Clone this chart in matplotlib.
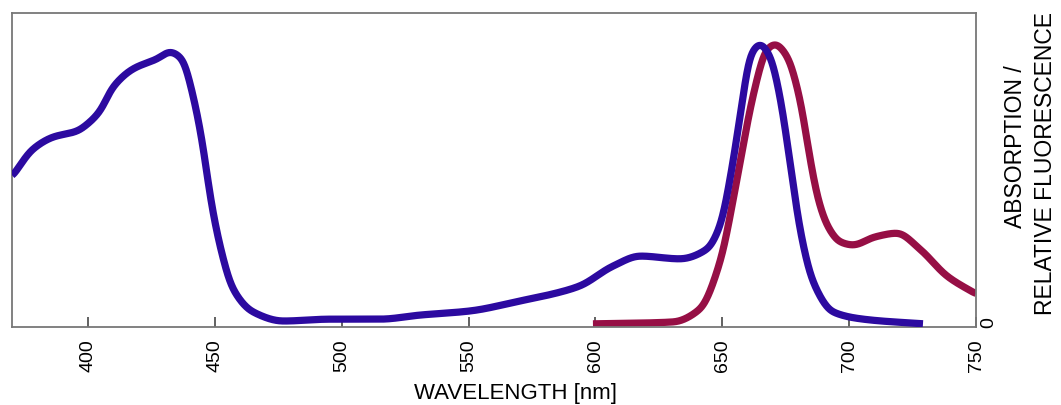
import matplotlib
matplotlib.use("Agg")
import matplotlib.pyplot as plt
import numpy as np

# Absorption (blue) — wavelength [nm], relative value
abs_nm = [370.0, 378.3, 386.2, 395.6, 400.7, 404.7, 409.8, 417.7, 427.2, 432.3, 437.0,
          441.4, 445.3, 448.1, 452.0, 457.1, 465.0, 476.8, 495.4, 515.1, 530.8, 550.5,
          570.3, 586.0, 593.9, 606.9, 617.6, 633.3, 644.0, 649.1, 654.2, 658.2, 660.9,
          664.9, 668.8, 672.7, 676.7, 680.6, 685.8, 693.6, 705.5, 729.1]
abs_val = [0.478, 0.567, 0.605, 0.624, 0.653, 0.688, 0.764, 0.822, 0.854, 0.876, 0.854,
           0.736, 0.576, 0.417, 0.258, 0.121, 0.048, 0.019, 0.025, 0.025, 0.038, 0.051,
           0.083, 0.111, 0.131, 0.194, 0.226, 0.217, 0.248, 0.322, 0.525, 0.736, 0.863,
           0.901, 0.863, 0.736, 0.525, 0.312, 0.143, 0.048, 0.025, 0.010]

# Fluorescence (red)
fl_nm = [599.0, 630.6, 641.2, 649.1, 655.8, 662.1, 667.6, 670.8, 675.5, 680.6, 684.6,
         687.7, 691.7, 696.4, 701.5, 710.2, 718.9, 727.9, 738.6, 750.0]
fl_val = [0.010, 0.016, 0.057, 0.207, 0.471, 0.736, 0.885, 0.901, 0.863, 0.726, 0.535,
          0.408, 0.318, 0.271, 0.261, 0.287, 0.299, 0.248, 0.162, 0.105]

xticks = [400, 450, 500, 550, 600, 650, 700, 750]
xlabel = "WAVELENGTH [nm]"
ylabel_lines = ["ABSORPTION /", "RELATIVE FLUORESCENCE"]

plt.rcParams['font.family'] = ['Liberation Sans', 'DejaVu Sans']

fig = plt.figure(figsize=(10.61, 4.06), dpi=100)
ax = fig.add_axes([12/1061, (406-328)/406, (976-12)/1061, (328-14)/406])

def smooth(xs, ys, step=0.1, sigma=1.2):
    xs = np.asarray(xs); ys = np.asarray(ys)
    t = np.arange(xs[0], xs[-1] + step/2, step)
    h = np.diff(xs); d = np.diff(ys) / h
    m = np.zeros_like(ys)
    for i in range(1, len(xs)-1):
        if d[i-1] * d[i] > 0:
            w1 = 2*h[i] + h[i-1]; w2 = h[i] + 2*h[i-1]
            m[i] = (w1 + w2) / (w1/d[i-1] + w2/d[i])
    m[0] = d[0]; m[-1] = d[-1]
    idx = np.clip(np.searchsorted(xs, t) - 1, 0, len(xs)-2)
    hh = h[idx]; s = (t - xs[idx]) / hh
    h00 = 2*s**3 - 3*s**2 + 1; h10 = s**3 - 2*s**2 + s
    h01 = -2*s**3 + 3*s**2; h11 = s**3 - s**2
    y = h00*ys[idx] + h10*hh*m[idx] + h01*ys[idx+1] + h11*hh*m[idx+1]
    k = np.arange(-4*sigma, 4*sigma + step/2, step)
    g = np.exp(-0.5*(k/sigma)**2); g /= g.sum()
    pad = len(k)//2
    yp = np.concatenate([np.full(pad, y[0]), y, np.full(pad, y[-1])])
    ys_ = np.convolve(yp, g, mode='same')[pad:-pad]
    return t, ys_

bx, by = smooth(abs_nm, abs_val)
rx, ry = smooth(fl_nm, fl_val)
ax.plot(rx, ry, color='#960f45', lw=5.2, solid_capstyle='butt', zorder=2)
ax.plot(bx, by, color='#2c0aa0', lw=5.2, solid_capstyle='butt', zorder=3)

ax.set_xlim(370, 750)
ax.set_ylim(0, 1)
ax.set_xticks(xticks)
ax.set_xticklabels([str(v) for v in xticks], rotation=90, fontsize=14)
ax.tick_params(axis='x', direction='in', length=7, width=1.3, color='#555555', pad=8)

ax.yaxis.tick_right()
ax.set_yticks([0])
ax.set_yticklabels(['0'], rotation=90, fontsize=14, va='bottom')
ax.tick_params(axis='y', length=0, pad=3)

for sp in ax.spines.values():
    sp.set_color('#777777')
    sp.set_linewidth(1.3)

fig.text(516/1061, 1 - 394/406, xlabel, fontsize=16, ha='center', va='center')
fig.text(1015/1061, 1 - 147/406, ylabel_lines[0], fontsize=16.5, rotation=90, ha='center', va='center')
fig.text(1045/1061, 1 - 164/406, ylabel_lines[1], fontsize=16.5, rotation=90, ha='center', va='center')

fig.savefig('out.png', dpi=100)
